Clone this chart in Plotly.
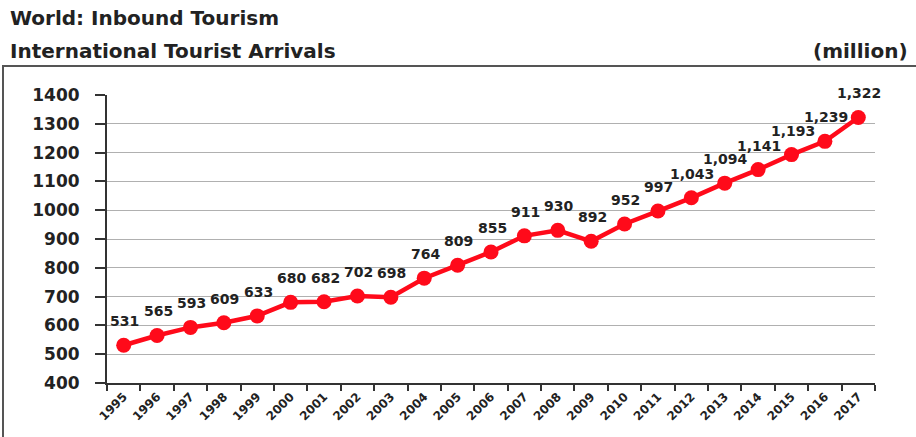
import plotly.graph_objects as go

years = [str(y) for y in range(1995, 2018)]
arrivals = [531, 565, 593, 609, 633, 680, 682, 702, 698, 764, 809, 855, 911, 930, 892,
            952, 997, 1043, 1094, 1141, 1193, 1239, 1322]
labels = [f"{v:,}" for v in arrivals]

W, H = 916, 437
L, R, T, B = 107, 41, 95, 54
pw, ph = W - L - R, H - T - B

def px(x):
    return (x - L) / pw

def py(y):
    return (H - B - y) / ph

red = "#ff0a1a"
font = "DejaVu Sans, Verdana, sans-serif"
ink = "#222222"

fig = go.Figure()
fig.add_trace(go.Scatter(
    x=years, y=arrivals, mode="lines+markers",
    line=dict(color=red, width=4.5),
    marker=dict(color=red, size=15),
    cliponaxis=False, hoverinfo="x+y",
))

# category axis annotations use the category index
annotations = [
    dict(x=i, y=v, text=t, xref="x", yref="y", showarrow=False,
         yshift=24, xshift=1, xanchor="center", yanchor="middle",
         font=dict(family=font, size=14, color=ink, weight="bold"))
    for i, (v, t) in enumerate(zip(arrivals, labels))
]

annotations += [
    dict(text="World: Inbound Tourism", xref="paper", yref="paper",
         x=px(8), y=py(18), xanchor="left", yanchor="middle", showarrow=False,
         font=dict(size=20, color=ink, family=font, weight="bold")),
    dict(text="International Tourist Arrivals", xref="paper", yref="paper",
         x=px(8), y=py(51), xanchor="left", yanchor="middle", showarrow=False,
         font=dict(size=20, color=ink, family=font, weight="bold")),
    dict(text="(million)", xref="paper", yref="paper",
         x=px(910), y=py(51), xanchor="right", yanchor="middle", showarrow=False,
         font=dict(size=20, color=ink, family=font, weight="bold")),
]

fig.update_layout(
    width=W, height=H,
    margin=dict(l=L, r=R, t=T, b=B),
    paper_bgcolor="white", plot_bgcolor="white",
    showlegend=False,
    font=dict(family=font, color=ink),
    xaxis=dict(
        type="category", showgrid=False, showline=True, linecolor="#333333", linewidth=2,
        ticks="outside", tickson="boundaries", ticklen=6, tickwidth=2, tickcolor="#333333",
        tickangle=-45, tickfont=dict(size=12, color=ink, family=font, weight="bold"),
        range=[-0.5, len(years) - 0.5], fixedrange=True,
    ),
    yaxis=dict(
        range=[400, 1400], dtick=100, showgrid=True, gridcolor="#b0b0b0", gridwidth=1,
        showline=True, linecolor="#333333", linewidth=2, zeroline=False,
        ticks="outside", ticklen=10, tickwidth=2, tickcolor="#333333",
        ticklabelstandoff=12,
        tickfont=dict(size=17, color=ink, family=font, weight="bold"),
    ),
    shapes=[dict(
        type="rect", xref="paper", yref="paper",
        x0=px(3), x1=px(W + 20), y0=py(H + 20), y1=py(66),
        line=dict(color="#555555", width=2), fillcolor="rgba(0,0,0,0)", layer="below",
    )],
    annotations=annotations,
)

fig.write_html("out.html")
